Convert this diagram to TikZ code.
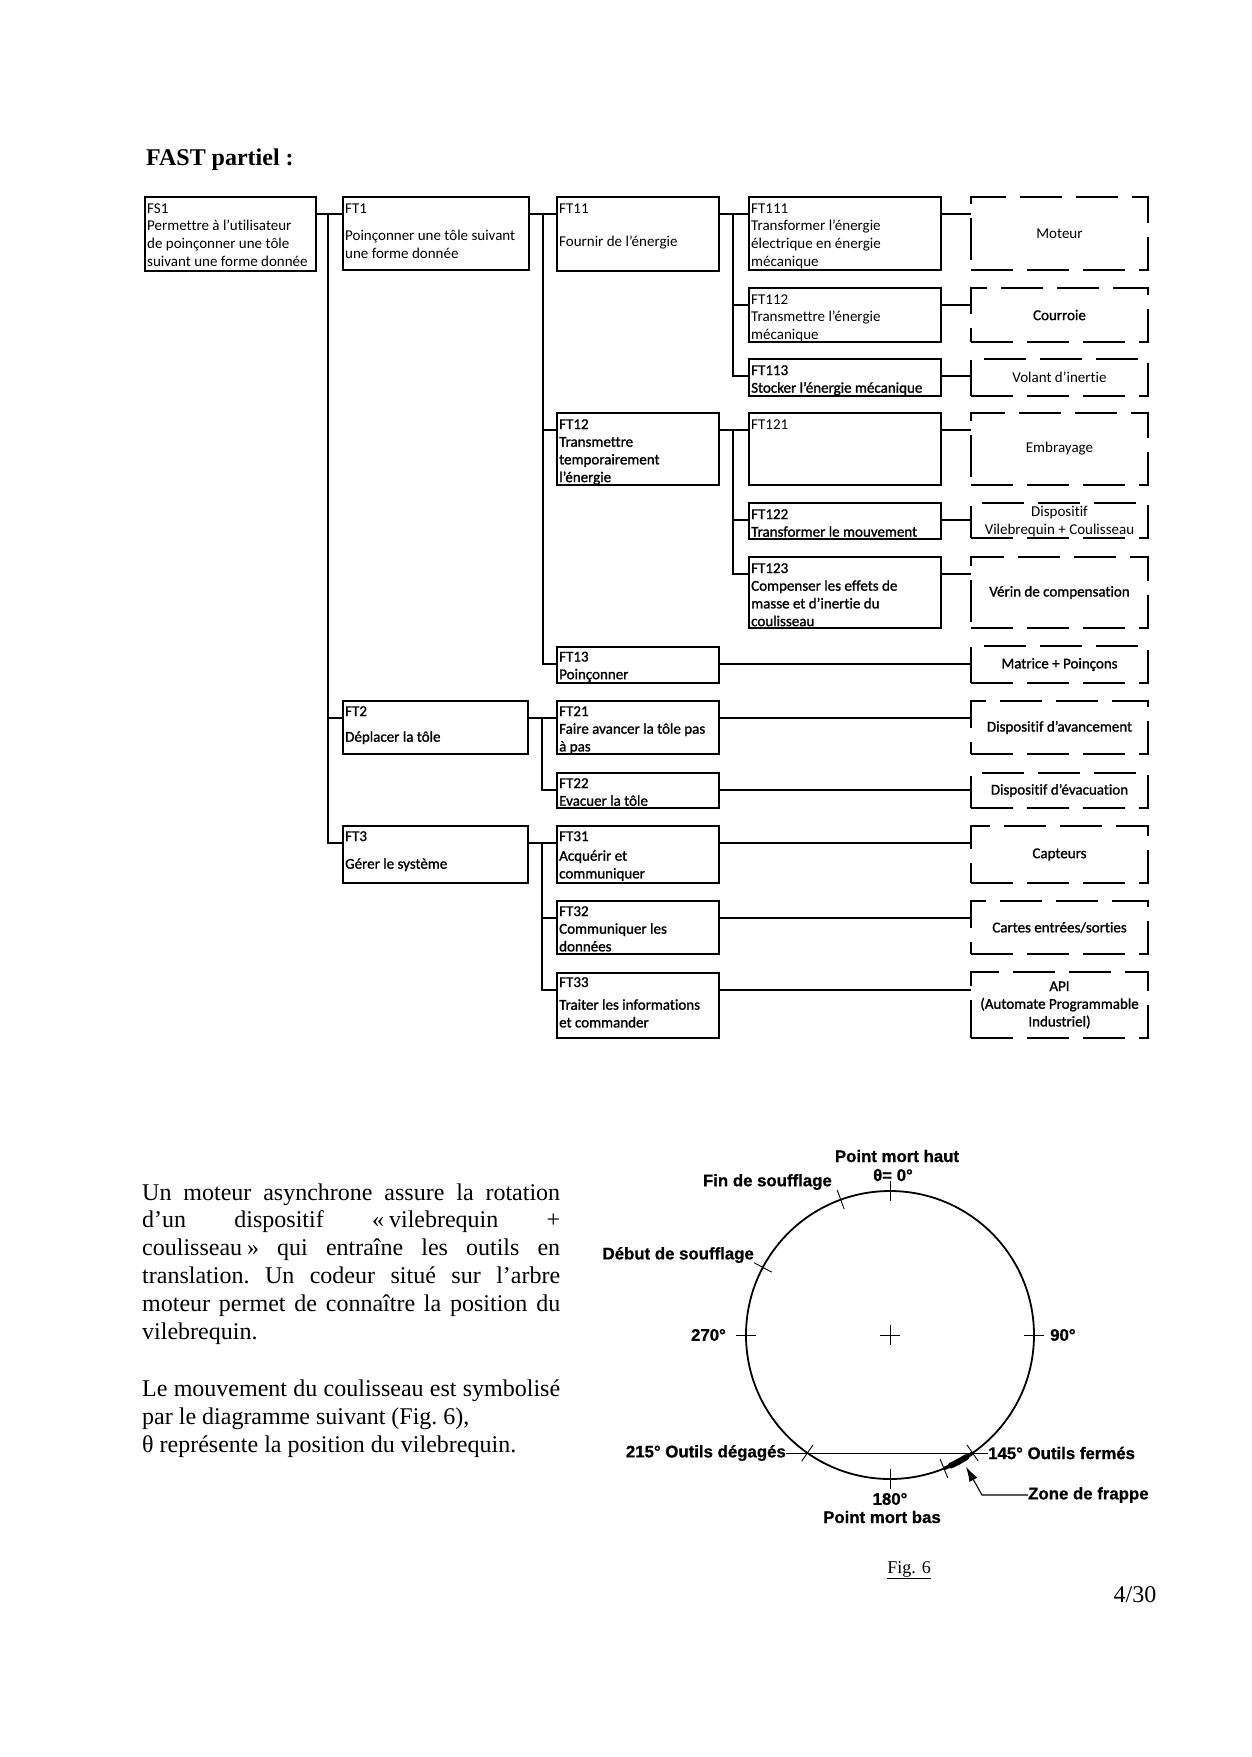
\documentclass[tikz,border=0pt]{standalone}
\usepackage{fontspec}
\setmainfont{Liberation Serif}
\newfontfamily\carl[Ligatures={TeX,NoCommon}]{Carlito}
\newfontfamily\carlb[Ligatures={TeX,NoCommon},FakeBold=1.2]{Carlito}
\newfontfamily\arlb[FakeBold=0.8]{Liberation Sans Bold}
\usetikzlibrary{calc,arrows.meta}
\newcommand{\btr}[1]{\parbox[t]{200pt}{\carl\fontsize{15}{17.7}\selectfont\raggedright #1}}
\newcommand{\btb}[1]{\parbox[t]{200pt}{\carlb\fontsize{15}{17.7}\selectfont\raggedright #1}}
\tikzset{
  fbox/.style={draw, line width=1.5pt, anchor=north west, inner sep=0pt, outer sep=0pt},
  dbox/.style={draw, line width=1.5pt, dash pattern=on 42pt off 14pt, anchor=north west, inner sep=0pt, outer sep=0pt},
  conn/.style={line width=1.3pt},
  btxt/.style={anchor=base west, inner sep=0pt},
  dtxt/.style={inner sep=0pt, align=center, font=\carl\fontsize{15}{17.7}\selectfont},
  dtxb/.style={inner sep=0pt, align=center, font=\carlb\fontsize{15}{17.7}\selectfont},
  clab/.style={inner sep=0pt, font=\arlb\fontsize{16.8}{19}\selectfont},
  tickl/.style={line width=0.9pt},
}
\begin{document}
\begin{tikzpicture}[x=1pt,y=-1pt]
\fill[white] (0,0) rectangle (1252,1757);
\useasboundingbox (0,0) rectangle (1252,1757);

% title
\node[anchor=base west, inner sep=0pt] (title) at (146,165) {\fontsize{24}{28}\selectfont\bfseries FAST partiel :};

% solid boxes
\node[fbox, minimum width=171pt, minimum height=74pt] (fs1) at (145,197) {};
\node[fbox, minimum width=186pt, minimum height=73pt] (ft1) at (343,197) {};
\node[fbox, minimum width=162pt, minimum height=74pt] (ft11) at (557,197) {};
\node[fbox, minimum width=192pt, minimum height=73pt] (ft111) at (749,197) {};
\node[fbox, minimum width=192pt, minimum height=54pt] (ft112) at (749,288) {};
\node[fbox, minimum width=192pt, minimum height=37pt] (ft113) at (749,359) {};
\node[fbox, minimum width=162pt, minimum height=72pt] (ft12) at (557,413) {};
\node[fbox, minimum width=192pt, minimum height=72pt] (ft121) at (749,413) {};
\node[fbox, minimum width=192pt, minimum height=36pt] (ft122) at (749,503) {};
\node[fbox, minimum width=192pt, minimum height=71pt] (ft123) at (749,557) {};
\node[fbox, minimum width=162pt, minimum height=36pt] (ft13) at (557,647) {};
\node[fbox, minimum width=185pt, minimum height=53pt] (ft2) at (343,701) {};
\node[fbox, minimum width=162pt, minimum height=53pt] (ft21) at (557,701) {};
\node[fbox, minimum width=162pt, minimum height=35pt] (ft22) at (557,773) {};
\node[fbox, minimum width=185pt, minimum height=57pt] (ft3) at (343,826) {};
\node[fbox, minimum width=162pt, minimum height=57pt] (ft31) at (557,826) {};
\node[fbox, minimum width=162pt, minimum height=53pt] (ft32) at (557,901) {};
\node[fbox, minimum width=162pt, minimum height=65pt] (ft33) at (557,973) {};

% texts of solid boxes
\node[btxt] (fs1t) at ($(fs1.north west)+(2,16)$) {\btr{FS1\\Permettre à l’utilisateur\\de poinçonner une tôle\\suivant une forme donnée}};
\node[btxt] (ft1t) at ($(ft1.north west)+(2,16)$) {\btr{FT1\\[10pt]Poinçonner une tôle suivant\\une forme donnée}};
\node[btxt] (ft11t) at ($(ft11.north west)+(2,16)$) {\btr{FT11\\[16pt]Fournir de l’énergie}};
\node[btxt] (ft111t) at ($(ft111.north west)+(2,16)$) {\btr{FT111\\Transformer l’énergie\\électrique en énergie\\mécanique}};
\node[btxt] (ft112t) at ($(ft112.north west)+(2,16)$) {\btr{FT112\\Transmettre l’énergie\\mécanique}};
\node[btxt] (ft113t) at ($(ft113.north west)+(2,16)$) {\btb{FT113\\Stocker l’énergie mécanique}};
\node[btxt] (ft12t) at ($(ft12.north west)+(2,16)$) {\btb{FT12\\Transmettre\\temporairement\\l’énergie}};
\node[btxt] (ft121t) at ($(ft121.north west)+(2,16)$) {\btr{FT121}};
\node[btxt] (ft122t) at ($(ft122.north west)+(2,16)$) {\btb{FT122\\Transformer le mouvement}};
\node[btxt] (ft123t) at ($(ft123.north west)+(2,16)$) {\btb{FT123\\Compenser les effets de\\masse et d’inertie du\\coulisseau}};
\node[btxt] (ft13t) at ($(ft13.north west)+(2,14.5)$) {\btb{FT13\\Poinçonner}};
\node[btxt] (ft2t) at ($(ft2.north west)+(2,15)$) {\btb{FT2\\[8pt]Déplacer la tôle}};
\node[btxt] (ft21t) at ($(ft21.north west)+(2,15)$) {\btb{FT21\\Faire avancer la tôle pas\\à pas}};
\node[btxt] (ft22t) at ($(ft22.north west)+(2,15)$) {\btb{FT22\\Evacuer la tôle}};
\node[btxt] (ft3t) at ($(ft3.north west)+(2,15)$) {\btb{FT3\\[10pt]Gérer le système}};
\node[btxt] (ft31t) at ($(ft31.north west)+(2,15)$) {\btb{FT31\\[2pt]Acquérir et\\communiquer}};
\node[btxt] (ft32t) at ($(ft32.north west)+(2,15)$) {\btb{FT32\\Communiquer les\\données}};
\node[btxt] (ft33t) at ($(ft33.north west)+(2,14)$) {\btb{FT33\\[5pt]Traiter les informations\\et commander}};

% dashed boxes
\node[dbox, minimum width=177pt, minimum height=73pt] (moteur) at (971,197) {};
\node[dbox, minimum width=177pt, minimum height=54pt] (courroie) at (971,288) {};
\node[dbox, minimum width=177pt, minimum height=37pt] (volant) at (971,359) {};
\node[dbox, minimum width=177pt, minimum height=72pt] (embrayage) at (971,413) {};
\node[dbox, minimum width=177pt, minimum height=35pt] (dispo) at (971,503) {};
\node[dbox, minimum width=177pt, minimum height=71pt] (verin) at (971,557) {};
\node[dbox, minimum width=177pt, minimum height=37pt] (matrice) at (971,646) {};
\node[dbox, minimum width=177pt, minimum height=53pt] (avanc) at (971,701) {};
\node[dbox, minimum width=177pt, minimum height=35pt] (evac) at (971,773) {};
\node[dbox, minimum width=177pt, minimum height=57pt] (capt) at (971,826) {};
\node[dbox, minimum width=177pt, minimum height=53pt] (cartes) at (971,901) {};
\node[dbox, minimum width=177pt, minimum height=66pt] (api) at (971,972) {};

\node[dtxt] (moteurt) at (moteur.center) {Moteur};
\node[dtxb] (courroiet) at (courroie.center) {Courroie};
\node[dtxt] (volantt) at (volant.center) {Volant d’inertie};
\node[dtxt] (embrayaget) at (embrayage.center) {Embrayage};
\node[dtxt] (dispot) at ($(dispo.center)+(0,1)$) {Dispositif\\Vilebrequin + Coulisseau};
\node[dtxb] (verint) at (verin.center) {Vérin de compensation};
\node[dtxb] (matricet) at (matrice.center) {Matrice + Poinçons};
\node[dtxb] (avanct) at (avanc.center) {Dispositif d’avancement};
\node[dtxb] (evact) at (evac.center) {Dispositif d’évacuation};
\node[dtxb] (captt) at (capt.center) {Capteurs};
\node[dtxb] (cartest) at (cartes.center) {Cartes entrées/sorties};
\node[dtxb] (apit) at (api.center) {API\\(Automate Programmable\\Industriel)};

% connection points
\foreach \n in {fs1,ft1,ft11,ft111,ft112,ft113,ft12,ft121,ft122,ft123,ft13,ft2,ft21,ft22,ft3,ft31,ft32,ft33} {
  \coordinate (\n-in) at ($(\n.north west)+(0,17)$);
  \coordinate (\n-out) at ($(\n.north east)+(0,17)$);
}

% tree connectors
\draw[conn] (fs1-out) -- (ft1-in);
\draw[conn] ($(fs1-out)+(12,0)$) |- (ft2-in);
\draw[conn] ($(fs1-out)+(12,0)$) |- (ft3-in);
\draw[conn] (ft1-out) -- (ft11-in);
\draw[conn] ($(ft1-out)+(14,0)$) |- (ft12-in);
\draw[conn] ($(ft1-out)+(14,0)$) |- (ft13-in);
\draw[conn] (ft11-out) -- (ft111-in);
\draw[conn] ($(ft11-out)+(14,0)$) |- (ft112-in);
\draw[conn] ($(ft11-out)+(14,0)$) |- (ft113-in);
\draw[conn] (ft12-out) -- (ft121-in);
\draw[conn] ($(ft12-out)+(14,0)$) |- (ft122-in);
\draw[conn] ($(ft12-out)+(14,0)$) |- (ft123-in);
\draw[conn] (ft2-out) -- (ft21-in);
\draw[conn] ($(ft2-out)+(14,0)$) |- (ft22-in);
\draw[conn] (ft3-out) -- (ft31-in);
\draw[conn] ($(ft3-out)+(14,0)$) |- (ft32-in);
\draw[conn] ($(ft3-out)+(14,0)$) |- (ft33-in);

% links to solutions
\draw[conn] (ft111-out) -- (ft111-out -| moteur.west);
\draw[conn] (ft112-out) -- (ft112-out -| courroie.west);
\draw[conn] (ft113-out) -- (ft113-out -| volant.west);
\draw[conn] (ft121-out) -- (ft121-out -| embrayage.west);
\draw[conn] (ft122-out) -- (ft122-out -| dispo.west);
\draw[conn] (ft123-out) -- (ft123-out -| verin.west);
\draw[conn] (ft13-out) -- (ft13-out -| matrice.west);
\draw[conn] (ft21-out) -- (ft21-out -| avanc.west);
\draw[conn] (ft22-out) -- (ft22-out -| evac.west);
\draw[conn] (ft31-out) -- (ft31-out -| capt.west);
\draw[conn] (ft32-out) -- (ft32-out -| cartes.west);
\draw[conn] (ft33-out) -- (ft33-out -| api.west);

% paragraph
\node[anchor=base west, inner sep=0pt] (para) at (142,1200) {\parbox[t]{418pt}{\fontsize{24}{27.8}\selectfont\frenchspacing
Un moteur asynchrone assure la rotation\linebreak
d’un dispositif «\hspace{5pt}vilebrequin +\linebreak
coulisseau\hspace{5pt}» qui entraîne les outils en\linebreak
translation. Un codeur situé sur l’arbre\linebreak
moteur permet de connaître la position du\linebreak
vilebrequin.\par\vspace{30pt}
Le mouvement du coulisseau est symbolisé\linebreak
par le diagramme suivant (Fig.~6),\newline
θ représente la position du vilebrequin.}};

% crank diagram
\coordinate (C) at (890,1335);
\draw[line width=1.8pt] (C) circle[radius=144];
\draw[tickl] ($(C)+(-10,0)$) -- ($(C)+(10,0)$);
\draw[tickl] ($(C)+(0,-10)$) -- ($(C)+(0,10)$);
\foreach \a in {-90,0,90,180,250,208,125,55,68} {
  \draw[tickl] ($(C)+(\a:134)$) -- ($(C)+(\a:154)$);
}
\draw[line width=3.5pt] ($(C)+(55:144)$) arc[start angle=55, end angle=68, radius=144];
\draw[line width=6pt, line cap=round] ($(C)+(58:144)$) arc[start angle=58, end angle=65, radius=144];

\node[clab] (pmh) at (897,1156) {Point mort haut};
\node[clab] (theta) at (893,1175) {θ= 0°};
\node[clab, anchor=east] (fin) at (832,1182) {Fin de soufflage};
\node[clab, anchor=east] (debut) at (754,1255) {Début de soufflage};
\node[clab, anchor=east] (l270) at (726,1335) {270°};
\node[clab, anchor=west] (l90) at (1050,1335) {90°};
\node[clab, anchor=east] (l215) at (786,1453) {215° Outils dégagés};
\node[clab, anchor=west] (l145) at (988,1453) {145° Outils fermés};
\node[clab, anchor=west] (zone) at (1028,1495) {Zone de frappe};
\node[clab] (l180) at (890,1499) {180°};
\node[clab] (pmb) at (882,1517) {Point mort bas};

\draw[line width=1pt] (l215.east) -- (l145.west);
\coordinate (ztip) at ($(C)+(60:152)$);
\draw[line width=1.1pt, -{Latex[length=15pt,width=9pt]}] (zone.west) -- ++(-46,0) -- (ztip);

\node[inner sep=0pt] (fig) at (909,1570) {\fontsize{18}{20}\selectfont\underline{Fig. 6}};
\node[inner sep=0pt] (page) at (1135,1595) {\fontsize{24}{26}\selectfont 4/30};
\end{tikzpicture}
\end{document}
